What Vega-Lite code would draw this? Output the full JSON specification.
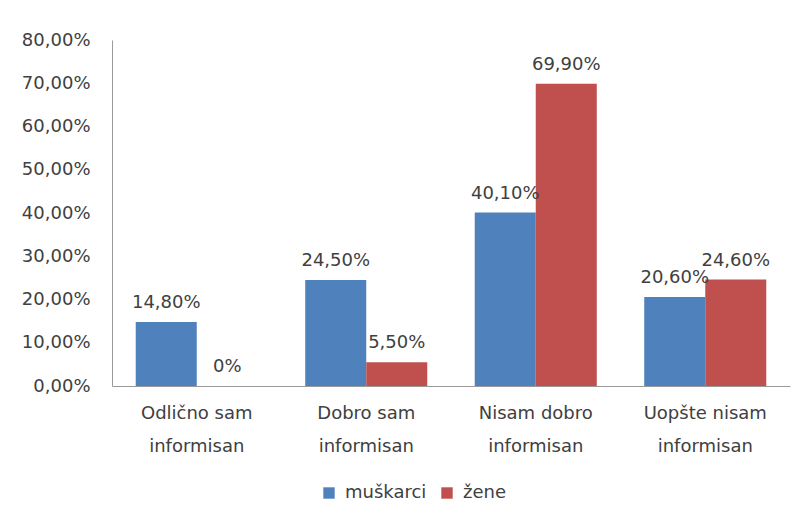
{
  "$schema": "https://vega.github.io/schema/vega-lite/v6.json",
  "width": 678,
  "height": 346,
  "autosize": {"type": "none"},
  "padding": {"left": 112, "top": 40, "right": 15, "bottom": 146},
  "background": "white",
  "config": {
    "font": "DejaVu Sans",
    "view": {"stroke": null},
    "locale": {"number": {"decimal": ",", "thousands": ".", "grouping": [3], "currency": ["", " €"]}},
    "axis": {"labelFont": "DejaVu Sans", "labelFontSize": 18, "labelColor": "#404040", "domainColor": "#9a9a9a", "ticks": false, "grid": false, "title": null}
  },
  "data": {
    "values": [
      {"kategorija": "Odlično sam informisan", "pol": "muškarci", "vrednost": 0.148, "oznaka": "14,80%"},
      {"kategorija": "Odlično sam informisan", "pol": "žene", "vrednost": 0.0, "oznaka": "0%"},
      {"kategorija": "Dobro sam informisan", "pol": "muškarci", "vrednost": 0.245, "oznaka": "24,50%"},
      {"kategorija": "Dobro sam informisan", "pol": "žene", "vrednost": 0.055, "oznaka": "5,50%"},
      {"kategorija": "Nisam dobro informisan", "pol": "muškarci", "vrednost": 0.401, "oznaka": "40,10%"},
      {"kategorija": "Nisam dobro informisan", "pol": "žene", "vrednost": 0.699, "oznaka": "69,90%"},
      {"kategorija": "Uopšte nisam informisan", "pol": "muškarci", "vrednost": 0.206, "oznaka": "20,60%"},
      {"kategorija": "Uopšte nisam informisan", "pol": "žene", "vrednost": 0.246, "oznaka": "24,60%"}
    ]
  },
  "encoding": {
    "x": {
      "field": "kategorija", "type": "nominal", "sort": null,
      "scale": {"paddingInner": 0.28, "paddingOuter": 0.14},
      "axis": {"labelAngle": 0, "labelPadding": 18, "labelLineHeight": 33, "labelBaseline": "top",
               "labelExpr": "[replace(datum.label, ' informisan', ''), 'informisan']"}
    },
    "xOffset": {"field": "pol", "type": "nominal", "sort": ["muškarci", "žene"], "scale": {"paddingInner": 0, "paddingOuter": 0}},
    "y": {
      "field": "vrednost", "type": "quantitative",
      "scale": {"domain": [0, 0.8]},
      "axis": {"format": ".2%", "values": [0, 0.1, 0.2, 0.3, 0.4, 0.5, 0.6, 0.7, 0.8], "labelPadding": 22}
    }
  },
  "layer": [
    {
      "mark": {"type": "bar"},
      "encoding": {
        "color": {
          "field": "pol", "type": "nominal",
          "scale": {"domain": ["muškarci", "žene"], "range": ["#4F81BD", "#C0504D"]},
          "legend": {"title": null, "orient": "none", "legendX": 208, "legendY": 444, "direction": "horizontal", "symbolType": "square", "symbolSize": 130,
                     "labelFontSize": 18, "labelColor": "#404040", "labelFont": "DejaVu Sans", "labelOffset": 7, "columnPadding": 11, "symbolStrokeWidth": 0}
        }
      }
    },
    {
      "mark": {"type": "text", "baseline": "alphabetic", "dy": -14, "fontSize": 18, "color": "#404040", "font": "DejaVu Sans"},
      "encoding": {"text": {"field": "oznaka"}}
    }
  ]
}
